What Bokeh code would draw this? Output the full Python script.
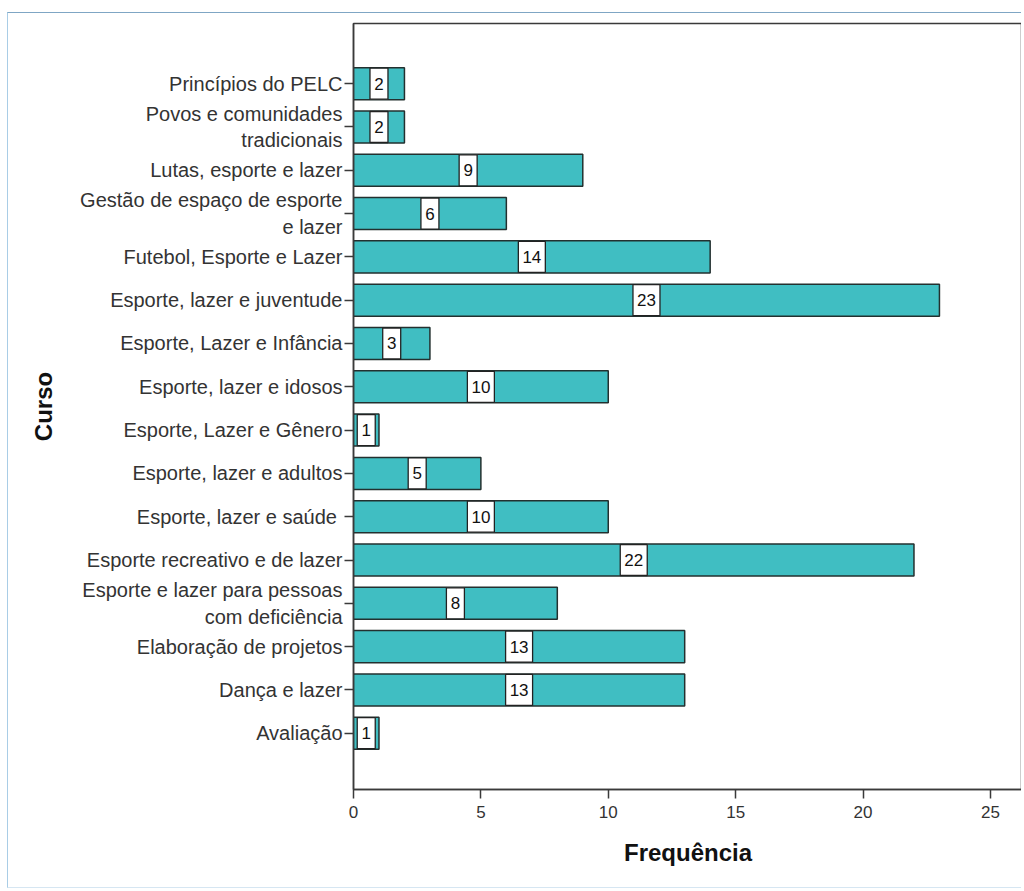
from bokeh.plotting import figure
from bokeh.models import FixedTicker, ColumnDataSource
from bokeh.core.properties import value
from bokeh.embed import file_html
from bokeh.resources import INLINE

# Data (bottom to top)
categories = [
    "Avaliação",
    "Dança e lazer",
    "Elaboração de projetos",
    "Esporte e lazer para pessoas\ncom deficiência",
    "Esporte recreativo e de lazer",
    "Esporte, lazer e  saúde",
    "Esporte, lazer e adultos",
    "Esporte, Lazer e Gênero",
    "Esporte, lazer e idosos",
    "Esporte, Lazer e Infância",
    "Esporte, lazer e juventude",
    "Futebol, Esporte e Lazer",
    "Gestão de espaço de esporte\ne lazer",
    "Lutas, esporte e lazer",
    "Povos e comunidades\ntradicionais",
    "Princípios do PELC",
]
frequencies = [1, 13, 13, 8, 22, 10, 5, 1, 10, 3, 23, 14, 6, 9, 2, 2]
x_ticks = [0, 5, 10, 15, 20, 25]

positions = list(range(1, len(categories) + 1))
labels = [str(v) for v in frequencies]
src = ColumnDataSource(dict(
    y=positions,
    freq=frequencies,
    mid=[v / 2 for v in frequencies],
    text=labels,
    boxw=[len(t) * 9 + 9 for t in labels],
))

FONT = "Liberation Sans"

p = figure(
    width=1014, height=876,
    x_range=(0, 26.26), y_range=(-0.30, 17.39),
    output_backend="svg", toolbar_location=None,
    min_border_left=345, min_border_right=0, min_border_top=10, min_border_bottom=100,
    background_fill_color="white", border_fill_color="white",
)
p.styles = {
    "margin-left": "7px",
    "margin-top": "12px",
    "border-left": "1.5px solid #A9CDE6",
    "border-top": "1.5px solid #7FA6C4",
    "border-bottom": "1.5px solid #D6E6F2",
}

p.hbar(y="y", right="freq", left=0, height=0.74, source=src,
       fill_color="#40BEC2", line_color="#23302F", line_width=1.5)
p.rect(x="mid", y="y", width="boxw", height=31, width_units="screen",
       height_units="screen", source=src, fill_color="white",
       line_color="#222222", line_width=1.3)
p.text(x="mid", y="y", text="text", source=src, text_align="center",
       text_baseline="middle", text_font=value(FONT), text_font_size="17px",
       text_color="#111111")

p.xgrid.visible = False
p.ygrid.visible = False
p.outline_line_color = "#3a3a3a"
p.outline_line_width = 1.5

# x axis
p.xaxis.ticker = FixedTicker(ticks=x_ticks)
p.xaxis.minor_tick_line_color = None
p.xaxis.major_tick_out = 9
p.xaxis.major_tick_in = 0
p.xaxis.major_tick_line_color = "#3a3a3a"
p.xaxis.major_tick_line_width = 1.5
p.xaxis.axis_line_color = "#3a3a3a"
p.xaxis.axis_line_width = 1.5
p.xaxis.major_label_text_font = FONT
p.xaxis.major_label_text_font_size = "17px"
p.xaxis.major_label_text_color = "#333333"
p.xaxis.major_label_standoff = 7
p.xaxis.axis_label = "Frequência"
p.xaxis.axis_label_text_font = FONT
p.xaxis.axis_label_text_font_style = "bold"
p.xaxis.axis_label_text_font_size = "24px"
p.xaxis.axis_label_text_color = "#111111"
p.xaxis.axis_label_standoff = 18

# y axis
p.yaxis.ticker = FixedTicker(ticks=positions)
p.yaxis.major_label_overrides = {pos: cat for pos, cat in zip(positions, categories)}
p.yaxis.minor_tick_line_color = None
p.yaxis.major_tick_out = 9
p.yaxis.major_tick_in = 0
p.yaxis.major_tick_line_color = "#3a3a3a"
p.yaxis.major_tick_line_width = 1.5
p.yaxis.axis_line_color = "#3a3a3a"
p.yaxis.axis_line_width = 1.5
p.yaxis.major_label_text_font = FONT
p.yaxis.major_label_text_font_size = "20px"
p.yaxis.major_label_text_color = "#333333"
p.yaxis.major_label_standoff = 2
p.yaxis.axis_label = "Curso"
p.yaxis.axis_label_text_font = FONT
p.yaxis.axis_label_text_font_style = "bold"
p.yaxis.axis_label_text_font_size = "24px"
p.yaxis.axis_label_text_color = "#111111"
p.yaxis.axis_label_standoff = 20

open("out.html", "w").write(file_html(p, INLINE))
